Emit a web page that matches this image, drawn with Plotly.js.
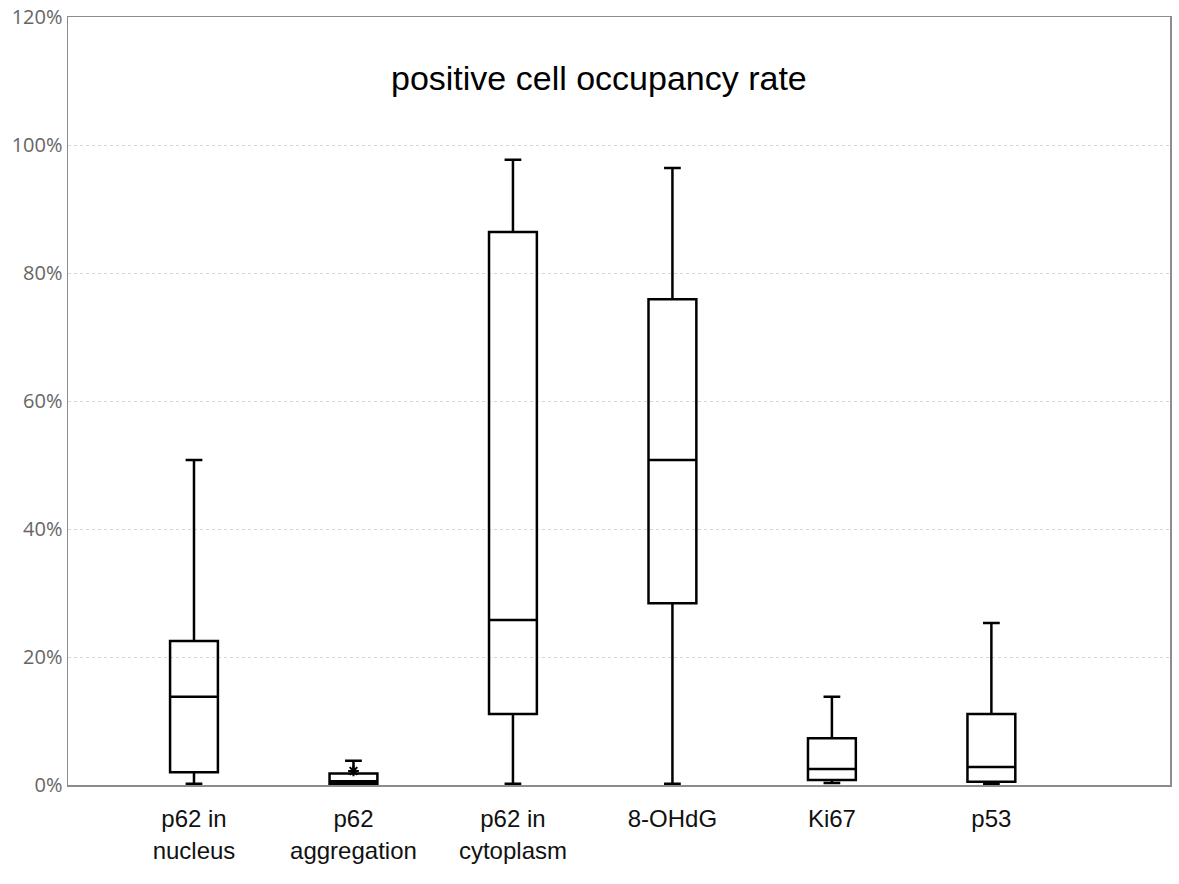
<!DOCTYPE html>
<html>
<head>
<meta charset="utf-8">
<script src="https://cdn.plot.ly/plotly-3.0.1.min.js"></script>
<style>html,body{margin:0;padding:0;background:#fff;}#chart{width:1179px;height:884px;}</style>
</head>
<body>
<div id="chart"></div>
<script>
// Categories and tick labels
const categories = ["p62 in nucleus", "p62 aggregation", "p62 in cytoplasm", "8-OHdG", "Ki67", "p53"];
const tickLabels = ["p62 in<br>nucleus", "p62<br>aggregation", "p62 in<br>cytoplasm", "8-OHdG", "Ki67", "p53"];
// Box statistics (% positive cells)
const lowerFence = [0.2, 0.0, 0.2, 0.2, 0.3, 0.2];
const q1Values    = [2.0, 0.2, 11.1, 28.4, 0.8, 0.5];
const medianValues= [13.8, 0.6, 25.8, 50.8, 2.5, 2.8];
const q3Values    = [22.5, 1.8, 86.4, 75.9, 7.3, 11.1];
const upperFence  = [50.8, 3.8, 97.7, 96.4, 13.8, 25.3];
// Star marker (p62 aggregation)
const starCategory = [1];
const starValue = [2.2];
const yTicks = [0, 20, 40, 60, 80, 100, 120];

const xIdx = categories.map((c, i) => i);

const boxTrace = {
  type: "box",
  x: xIdx,
  q1: q1Values,
  median: medianValues,
  q3: q3Values,
  lowerfence: lowerFence,
  upperfence: upperFence,
  name: "rate",
  width: 0.3,
  whiskerwidth: 0.35,
  fillcolor: "rgba(255,255,255,0)",
  line: { color: "#000", width: 2.5 },
  boxpoints: false,
  hoverinfo: "y"
};

const starTrace = {
  type: "scatter",
  mode: "markers",
  x: starCategory,
  y: starValue,
  marker: { symbol: "asterisk-open", size: 9, color: "#000", line: { color: "#000", width: 2 } },
  showlegend: false
};

const layout = {
  width: 1179,
  height: 884,
  margin: { l: 68, r: 9, t: 17, b: 99 },
  paper_bgcolor: "#fff",
  plot_bgcolor: "#fff",
  showlegend: false,
  font: { family: "Liberation Sans, Arial, sans-serif", color: "#000" },
  xaxis: {
    range: [-0.79, 6.12],
    tickmode: "array",
    tickvals: xIdx,
    ticktext: tickLabels,
    showgrid: false,
    zeroline: false,
    showline: true,
    linecolor: "#8c8c8c",
    linewidth: 1.5,
    mirror: true,
    ticks: "",
    tickfont: { size: 24, color: "#111", family: "Liberation Sans, Arial, sans-serif" },
    ticklabelstandoff: 12
  },
  yaxis: {
    range: [0, 120],
    tickmode: "array",
    tickvals: yTicks,
    ticktext: yTicks.map(v => v + "%"),
    showgrid: true,
    gridcolor: "#d6d6d6",
    griddash: "dot",
    gridwidth: 1,
    zeroline: false,
    showline: true,
    linecolor: "#8c8c8c",
    linewidth: 1.5,
    mirror: true,
    ticks: "",
    tickfont: { size: 20, color: "#666", family: "Open Sans, DejaVu Sans, sans-serif" }
  },
  annotations: [{
    text: "positive cell occupancy rate",
    xref: "paper", yref: "paper",
    x: 0.482, y: 0.921,
    xanchor: "center", yanchor: "middle",
    showarrow: false,
    font: { size: 34, color: "#000", family: "Liberation Sans, Arial, sans-serif" }
  }]
};

Plotly.newPlot("chart", [boxTrace, starTrace], layout, { displayModeBar: false, staticPlot: true });
</script>
</body>
</html>
